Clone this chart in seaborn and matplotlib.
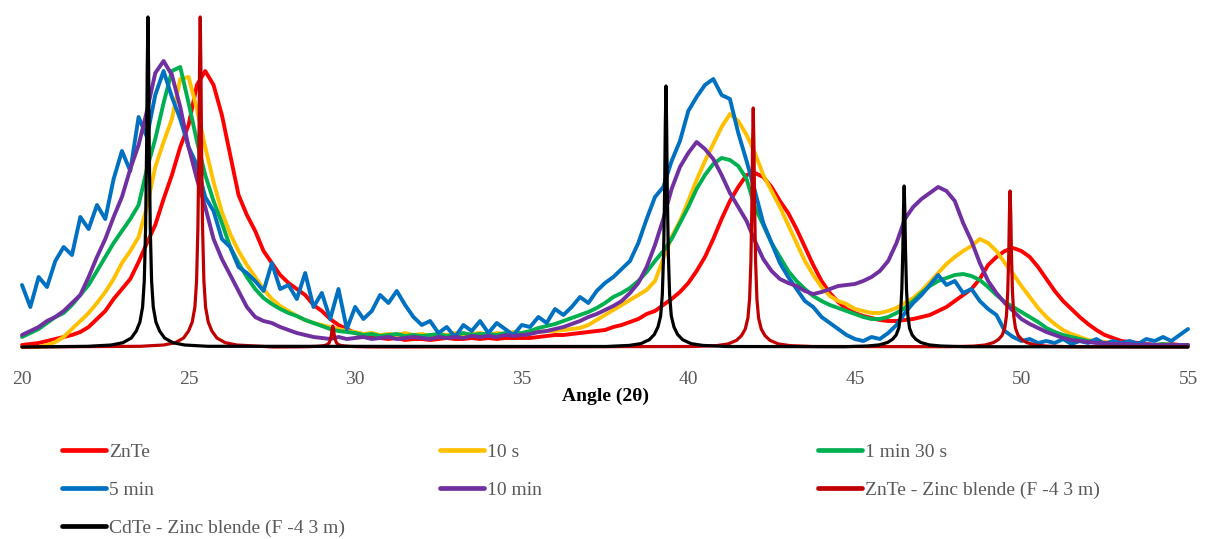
import numpy as np
import pandas as pd
import matplotlib
matplotlib.use("Agg")
import matplotlib.pyplot as plt
from matplotlib.lines import Line2D
import seaborn as sns

# ---------------- data ----------------
# measured diffraction angle grid (2-theta, step 0.25 deg)
angle = np.linspace(20, 55, 141)

znte = [2, 3, 4, 6, 8, 10, 12, 15, 20, 28, 36, 48, 58, 68, 85, 104,
        122, 148, 172, 200, 222, 262, 276, 262, 232, 192, 152, 132, 116, 96, 84, 72,
        64, 58, 52, 42, 36, 28, 22, 18, 14, 12, 10, 9, 8, 9, 7, 8,
        8, 7, 8, 9, 8, 8, 9, 8, 9, 8, 9, 9, 9, 9, 10, 11,
        12, 12, 13, 14, 15, 16, 17, 20, 22, 25, 28, 33, 36, 42, 48, 55,
        64, 76, 90, 108, 128, 146, 160, 172, 174, 170, 160, 146, 134, 118, 100, 82,
        66, 54, 45, 38, 34, 31, 29, 27, 26, 26, 27, 28, 30, 32, 36, 40,
        46, 52, 58, 68, 82, 90, 96, 99, 96, 90, 80, 68, 56, 46, 38, 30,
        23, 17, 12, 9, 6, 5, 4, 3, 2, 2, 3, 2, 2]

s10 = [0, 0, 0, 2, 5, 10, 18, 26, 34, 44, 55, 68, 84, 96, 110, 140,
       180, 205, 228, 268, 270, 238, 200, 165, 135, 113, 96, 82, 70, 58, 48, 41,
       36, 31, 27, 24, 22, 20, 18, 16, 15, 13, 14, 12, 13, 12, 14, 12,
       13, 11, 13, 12, 14, 12, 13, 14, 12, 14, 13, 15, 14, 15, 15, 16,
       16, 17, 18, 19, 22, 27, 32, 37, 42, 47, 52, 57, 66, 88, 110, 126,
       146, 167, 186, 203, 220, 233, 226, 212, 194, 172, 156, 140, 122, 104, 86, 72,
       60, 51, 46, 43, 38, 36, 34, 34, 36, 39, 44, 49, 56, 65, 74, 83,
       90, 96, 101, 108, 104, 96, 84, 73, 61, 50, 39, 30, 23, 17, 13, 10,
       7, 6, 5, 4, 4, 3, 3, 3, 2, 3, 2, 2, 2]

m1s30 = [10, 14, 18, 24, 30, 34, 42, 52, 62, 76, 90, 104, 116, 128, 142, 178,
         208, 244, 276, 280, 244, 206, 172, 146, 124, 100, 84, 70, 58, 49, 43, 38,
         34, 31, 27, 24, 21, 18, 16, 15, 14, 12, 13, 11, 12, 13, 11, 12,
         11, 12, 13, 11, 12, 14, 12, 13, 13, 12, 14, 13, 14, 16, 19, 21,
         23, 26, 29, 32, 35, 39, 44, 50, 54, 59, 66, 75, 86, 96, 108, 124,
         140, 158, 172, 183, 189, 187, 181, 168, 140, 122, 104, 90, 76, 66, 58, 51,
         46, 42, 39, 36, 33, 30, 28, 28, 30, 34, 39, 46, 54, 61, 66, 69,
         72, 73, 71, 67, 60, 52, 45, 40, 35, 30, 25, 19, 15, 12, 10, 8,
         6, 5, 4, 4, 3, 3, 3, 2, 2, 3, 2, 2, 2]

m5 = [62, 40, 70, 60, 86, 100, 92, 130, 118, 142, 128, 168, 196, 176, 230, 210,
      252, 276, 250, 228, 200, 182, 150, 136, 108, 100, 80, 74, 66, 56, 84, 58,
      62, 48, 74, 40, 54, 28, 58, 18, 40, 28, 36, 52, 44, 56, 42, 30,
      22, 26, 14, 20, 10, 22, 16, 26, 14, 24, 18, 12, 22, 20, 30, 24,
      38, 32, 40, 50, 44, 56, 64, 70, 78, 86, 104, 128, 150, 160, 186, 206,
      236, 250, 262, 268, 252, 248, 214, 186, 156, 124, 104, 84, 70, 58, 46, 40,
      30, 24, 18, 12, 8, 6, 10, 8, 14, 22, 34, 44, 52, 62, 72, 62,
      66, 54, 58, 46, 38, 32, 16, 10, 6, 8, 4, 6, 4, 8, 3, 6,
      4, 8, 3, 6, 4, 6, 3, 8, 6, 10, 6, 12, 18]

m10 = [12, 16, 20, 26, 30, 36, 44, 52, 70, 90, 108, 130, 150, 178, 202, 236,
       274, 286, 272, 240, 200, 168, 140, 108, 88, 72, 56, 40, 30, 26, 24, 20,
       17, 14, 12, 10, 9, 8, 10, 8, 9, 10, 8, 9, 10, 8, 9, 10,
       9, 8, 10, 9, 10, 9, 11, 10, 11, 10, 12, 11, 12, 13, 15, 16,
       18, 20, 23, 26, 30, 33, 37, 41, 46, 54, 64, 80, 102, 128, 158, 180,
       194, 205, 198, 188, 172, 154, 140, 126, 106, 88, 76, 68, 64, 61, 56, 53,
       55, 58, 61, 62, 63, 66, 70, 76, 86, 104, 128, 140, 148, 154, 160, 156,
       146, 124, 106, 84, 66, 54, 44, 36, 28, 23, 19, 15, 12, 9, 7, 6,
       5, 4, 4, 3, 3, 3, 2, 3, 2, 2, 2, 2, 2]

# reference pattern ZnTe - zinc blende (profile points)
znte_ref_x = [20.0,
              23.55, 24.25, 24.60, 24.85, 25.00, 25.11, 25.19, 25.24, 25.28, 25.31, 25.33, 25.35,
              25.37, 25.39, 25.42, 25.46, 25.51, 25.59, 25.70, 25.85, 26.10, 26.45, 27.15,
              27.53, 28.23, 28.58, 28.83, 28.98, 29.09, 29.17, 29.22, 29.26, 29.29, 29.31, 29.33,
              29.35, 29.37, 29.40, 29.44, 29.49, 29.57, 29.68, 29.83, 30.08, 30.43, 31.13,
              40.15, 40.85, 41.20, 41.45, 41.60, 41.71, 41.79, 41.84, 41.88, 41.91, 41.93, 41.95,
              41.97, 41.99, 42.02, 42.06, 42.11, 42.19, 42.30, 42.45, 42.70, 43.05, 43.75,
              47.86, 48.56, 48.91, 49.16, 49.31, 49.42, 49.50, 49.55, 49.59, 49.62, 49.64, 49.66,
              49.68, 49.70, 49.73, 49.77, 49.82, 49.90, 50.01, 50.16, 50.41, 50.76, 51.46,
              55.0]
znte_ref_y = [0,
              0.7, 2, 4.3, 9, 16, 25, 40, 66, 119, 198, 280, 330,
              280, 198, 119, 66, 40, 25, 16, 9, 4.3, 2, 0.7,
              0, 0.1, 0.3, 0.6, 1.0, 1.6, 2.5, 4.2, 7.6, 12.6, 17.9, 21,
              17.9, 12.6, 7.6, 4.2, 2.5, 1.6, 1.0, 0.6, 0.3, 0.1, 0,
              0.5, 1.4, 3.1, 6.7, 11.5, 18, 29, 48, 86, 143, 203, 239,
              203, 143, 86, 48, 29, 18, 11.5, 6.7, 3.1, 1.4, 0.5,
              0.3, 0.9, 2, 4.4, 7.5, 11.7, 19, 31, 56, 94, 133, 156,
              133, 94, 56, 31, 19, 11.7, 7.5, 4.4, 2, 0.9, 0.3,
              0]

# reference pattern CdTe - zinc blende
cdte_ref_x = [20.0,
              21.98, 22.68, 23.03, 23.28, 23.43, 23.54, 23.62, 23.67, 23.71, 23.74, 23.76, 23.78,
              23.80, 23.82, 23.85, 23.89, 23.94, 24.02, 24.13, 24.28, 24.53, 24.88, 25.58,
              37.53, 38.23, 38.58, 38.83, 38.98, 39.09, 39.17, 39.22, 39.26, 39.29, 39.31, 39.33,
              39.35, 39.37, 39.40, 39.44, 39.49, 39.57, 39.68, 39.83, 40.08, 40.43, 41.13,
              44.68, 45.38, 45.73, 45.98, 46.13, 46.24, 46.32, 46.37, 46.41, 46.44, 46.46, 46.48,
              46.50, 46.52, 46.55, 46.59, 46.64, 46.72, 46.83, 46.98, 47.23, 47.58, 48.28,
              55.0]
cdte_ref_y = [0,
              0.7, 2, 4.3, 9, 16, 25, 40, 66, 119, 198, 280, 330,
              280, 198, 119, 66, 40, 25, 16, 9, 4.3, 2, 0.7,
              0.5, 1.6, 3.4, 7.3, 12.5, 20, 31, 52, 94, 157, 222, 261,
              222, 157, 94, 52, 31, 20, 12.5, 7.3, 3.4, 1.6, 0.5,
              0.3, 1, 2.1, 4.5, 7.7, 12, 19, 32, 58, 97, 137, 161,
              137, 97, 58, 32, 19, 12, 7.7, 4.5, 2.1, 1, 0.3,
              0]

labels = ["ZnTe", "10 s", "1 min 30 s", "5 min", "10 min",
          "ZnTe - Zinc blende (F -4 3 m)", "CdTe - Zinc blende (F -4 3 m)"]
colors = ["#FF0000", "#FFC000", "#00B050", "#0070C0", "#7030A0", "#C00000", "#000000"]
xticks = [20, 25, 30, 35, 40, 45, 50, 55]

# ---------------- plot ----------------
sns.set_style("white")
plt.rcParams['font.family'] = ['Liberation Serif', 'DejaVu Serif']

fig = plt.figure(figsize=(12.06, 5.39), dpi=100)
ax = fig.add_axes([22 / 1206, (539 - 347) / 539, 1166 / 1206, (347 - 10) / 539])

meas = [znte, s10, m1s30, m5, m10]
for vals, lab, col in zip(meas, labels[:5], colors[:5]):
    sns.lineplot(x=angle, y=vals, color=col, linewidth=2.8, ax=ax,
                 estimator=None, sort=False, clip_on=False, label=lab,
                 legend=False, solid_joinstyle="round")

sns.lineplot(x=znte_ref_x, y=znte_ref_y, color=colors[5], linewidth=2.3, ax=ax,
             estimator=None, sort=False, clip_on=False, legend=False)
sns.lineplot(x=cdte_ref_x, y=cdte_ref_y, color=colors[6], linewidth=2.3, ax=ax,
             estimator=None, sort=False, clip_on=False, legend=False)

ax.set_xlim(20, 55)
ax.set_ylim(0, 337)
ax.set_yticks([])
ax.set_xticks(xticks)
ax.set_xticklabels([str(t) for t in xticks])
ax.tick_params(axis="x", length=0, pad=17, labelsize=14, labelcolor="#595959")
for s in ax.spines.values():
    s.set_visible(False)
ax.set_xlabel("Angle (2θ)", fontsize=14, fontweight="bold", color="black", labelpad=0)

# legend: three columns placed like the original
handles = [Line2D([0], [0], color=c, linewidth=3.4) for c in colors]
cols = [[0, 3, 6], [1, 4], [2, 5]]
xs = [62, 440, 818]
for idx, x0 in zip(cols, xs):
    fig.legend([handles[i] for i in idx], [labels[i] for i in idx],
               loc="upper left", bbox_to_anchor=(x0 / 1206, 1 - 443 / 539),
               frameon=False, fontsize=14, labelcolor="#595959",
               handlelength=2.26, handletextpad=0.15, labelspacing=1.05,
               borderpad=0, borderaxespad=0)

fig.savefig("out.png", dpi=100)
